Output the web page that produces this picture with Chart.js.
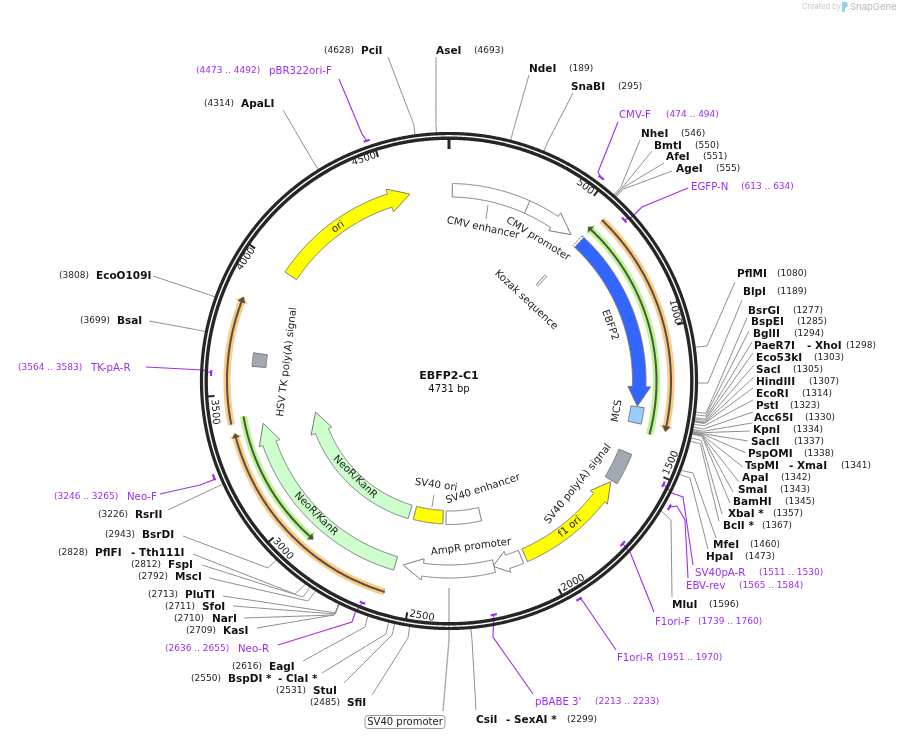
<!DOCTYPE html>
<html><head><meta charset="utf-8">
<style>html,body{margin:0;padding:0;background:#fff}canvas{display:block}</style>
<script src="https://cdn.jsdelivr.net/npm/chart.js@4/dist/chart.umd.js"></script>
</head><body><canvas id="c" width="899" height="738" style="width:899px;height:738px"></canvas>
<script>
const plasmidName = "EBFP2-C1";
const plasmidLength = 4731;
const tickValues = [500,1000,1500,2000,2500,3000,3500,4000,4500];
const siteNames = ["PciI","AseI","NdeI","SnaBI","NheI","BmtI","AfeI","AgeI","PflMI","BlpI","BsrGI","BspEI","BglII","PaeR7I","Eco53kI","SacI","HindIII","EcoRI","PstI","Acc65I","KpnI","SacII","PspOMI","TspMI","ApaI","SmaI","BamHI","XbaI *","BclI *","MfeI","HpaI","MluI","CsiI","SfiI","StuI","BspDI *","EagI","KasI","NarI","SfoI","PluTI","MscI","FspI","PflFI","BsrDI","RsrII","BsaI","EcoO109I","ApaLI"];
const siteBases = [4628,4693,189,295,546,550,551,555,1080,1189,1277,1285,1294,1298,1303,1305,1307,1314,1323,1330,1334,1337,1338,1341,1342,1343,1345,1357,1367,1460,1473,1596,2299,2485,2531,2550,2616,2709,2710,2711,2713,2792,2812,2828,2943,3226,3699,3808,4314];
const siteSecondNames = {PaeR7I:"- XhoI",TspMI:"- XmaI",CsiI:"- SexAI *","BspDI *":"- ClaI *",PflFI:"- Tth111I"};
const primerNames = ["pBR322ori-F","CMV-F","EGFP-N","SV40pA-R","EBV-rev","F1ori-F","F1ori-R","pBABE 3'","Neo-R","Neo-F","TK-pA-R"];
const primerStarts = [4473,474,613,1511,1565,1739,1951,2213,2636,3246,3564];
const primerEnds = [4492,494,634,1530,1584,1760,1970,2233,2655,3265,3583];
const primerStrands = [1,1,-1,-1,1,-1,1,-1,-1,1,-1];

/* layout only */
const C = {x:449,y:381};
const siteLayout = { // nameX, y, coordX, endX, endY, elbow(optional), secondX
 PciI:[361,51,324,388,57],AseI:[436,51,474,436,57],NdeI:[529,69,569,529,75],SnaBI:[571,87,618,573,93],
 NheI:[641,134,681,640,140],BmtI:[654,146,695,652,151],AfeI:[666,157,703,664,163],AgeI:[676,169,716,672,171],
 PflMI:[737,274,777,735,282,[707,346]],BlpI:[743,292,777,742,300,[708,383]],
 BsrGI:[748,311,793,747,318],BspEI:[751,322,797,749,331],BglII:[753,334,794,752,342],PaeR7I:[754,346,846,753,353,null,807],
 Eco53kI:[756,358,814,754,365],SacI:[756,370,793,754,377],HindIII:[756,382,809,753,388],EcoRI:[756,394,802,753,400],
 PstI:[756,406,790,753,412],Acc65I:[754,418,805,752,423],KpnI:[753,430,793,750,431],SacII:[751,442,794,748,441],
 PspOMI:[748,454,804,746,453],TspMI:[745,466,841,743,467,null,789],ApaI:[742,478,781,739,482],SmaI:[738,490,780,733,492],
 BamHI:[733,502,785,730,503],"XbaI *":[728,514,773,722,514],"BclI *":[723,526,762,719,521],
 MfeI:[713,545,750,716,538,[693,473]],HpaI:[706,557,745,708,549,[690,478]],MluI:[672,605,709,672,597,[671,520]],
 CsiI:[476,720,567,476,710,[472,640],506],SfiI:[347,703,310,372,695,[408,638]],StuI:[313,691,276,344,683,[392,635]],
 "BspDI *":[228,679,191,322,673,[386,634],278],EagI:[269,667,232,303,661,[365,627]],
 KasI:[223,631,186,257,628,[334,615]],NarI:[212,619,174,244,618,[334,615]],SfoI:[202,607,165,233,606,[335,614]],PluTI:[185,595,148,223,596,[336,613]],
 MscI:[175,577,138,209,578,[308,601]],FspI:[168,565,131,202,565,[303,597]],PflFI:[95,553,58,193,554,[295,594],131],BsrDI:[142,535,105,183,536,[268,568]],
 RsrII:[135,515,98,168,510],BsaI:[117,321,80,149,321],EcoO109I:[96,276,59,153,276],ApaLI:[241,104,204,283,110]
};
const primerLayout = [ // nameX, y, coordX, leader points
 [269,71,196,[[362,134],[339,79]]],[619,115,666,[[598,172],[618,122]]],[691,187,741,[[632,217],[642,207],[688,188]]],
 [695,573,759,[[672,493],[683,497],[693,565]]],[686,586,739,[[677,506],[685,520],[688,578]]],[655,622,698,[[630,552],[654,612]]],
 [617,658,658,[[582,600],[616,650]]],[535,702,595,[[493,637],[533,694]]],[238,649,165,[[355,613],[352,622],[278,645]]],
 [127,497,54,[[213,480],[200,485],[160,494]]],[91,368,18,[[203,370],[146,367]]]
];
const tickLabelLayout = [[585,187,38],[675,312,76],[671,463,-66],[573,583,-28],[422,616,10],[283,549,48],[215,412,86],[246,259,-56],[364,159,-18]];
const featureLabels = [
 ["CMV enhancer",483,228,12],["CMV promoter",538,239,32],["Kozak sequence",526,300,43],["EBFP2",610,325,70],["MCS",617,411,-80],
 ["SV40 poly(A) signal",578,484,-51],["f1 ori",570,527,-40],["AmpR promoter",471,547,-7.5],["SV40 ori",436,485,8],["SV40 enhancer",483,489,-18],
 ["NeoR/KanR",355,477,44],["NeoR/KanR",316,514,45],["HSV TK poly(A) signal",287,362,-83],["ori",338,227,-36]
];
const WHITE="#ffffff",YEL="#ffff00",NEO="#ccffcc",GREY="#a3a9b2",OUT="#767676";
const boxFeatures = [ // from,to,inner,outer,fill
 [2398,2556,129.5,143,YEL],[2193,2382,130,143.5,WHITE],[1470,1596,183,197,GREY],[3604,3656,183.5,197.5,GREY],[1285,1349,183.5,197,"#99ccff"]
];
const arrowFeatures = [ // tail,head,tip,inner,outer,wingIn,wingOut,tipR,fill
 [13,441,523,184,197.5,180.5,202,190.5,WHITE],[564,1205,1283,183.5,197,179,201.8,190,"#3366ff"],
 [2057,1680,1602,183,197,178.8,200.6,190.5,YEL],[2073,2130,2190,183,197,179,201,190.5,WHITE],[2186,2470,2549,184,197,179.4,200.9,189.6,WHITE],
 [2583,3266,3376,129.5,143.5,126,148.2,137,NEO],[2580,3297,3380,183,197,178.8,200.8,190.5,NEO],[3990,4492,4576,183,197,178,202,191,YEL]
];
const primerBars = [ // tail,head,tip,r,halo,core
 [572,1337,1357,222,"#fdca85","#555044"],[1379,568,552,207.5,"#bff494","#465a3c"],
 [3399,3822,3842,222,"#fdca85","#555044"],[2588,3352,3368,220.5,"#fdca85","#555044"],[3420,2916,2898,208.5,"#bff494","#465a3c"]
];

const rad = b => b/plasmidLength*2*Math.PI;
const pt = (b,r)=>({x:C.x+r*Math.sin(rad(b)),y:C.y-r*Math.cos(rad(b))});
function arc(a,b,r){const n=Math.max(2,Math.ceil(Math.abs(b-a)/6));const p=[];for(let i=0;i<=n;i++)p.push(pt(a+(b-a)*i/n,r));return p;}
function band(a,b,r1,r2){const p=[...arc(a,b,r2),...arc(b,a,r1)];p.push(p[0]);return p;}
function arrow(t,h,tip,r1,r2,w1,w2,tr){const p=[...arc(t,h,r2),pt(h,w2),pt(tip,tr),pt(h,w1),...arc(h,t,r1)];p.push(p[0]);return p;}
const xy = a=>({x:a[0],y:a[1]});
const DS=[];
function shape(data,fill,stroke,w,extra){DS.push(Object.assign({data,showLine:true,pointRadius:0,tension:0.0001,borderColor:stroke||"rgba(0,0,0,0)",borderWidth:w===undefined?1:w,backgroundColor:fill||"rgba(0,0,0,0)",fill:fill?"shape":false,borderJoinStyle:"miter",clip:false},extra||{}));}
function line(data,color,w){shape(data,null,color,w);}

// SV40 promoter leader, behind the ring
line([{x:449,y:588},{x:449,y:640},{x:443,y:711}],"#aaaaaa",1.4);
// site leaders
siteNames.forEach((n,i)=>{const L=siteLayout[n];const b=siteBases[i];const el=L[5]?xy(L[5]):pt(b,259);line([pt(b,248),el,{x:L[3],y:L[4]}],"#8c8c8c",1);});
// primer leaders
primerNames.forEach((n,i)=>{const L=primerLayout[i];const m=(primerStarts[i]+primerEnds[i])/2;const r=primerStrands[i]>0?254:238;line([pt(m,r),...L[3].map(xy)],"#a02cf5",1.1);});
// feature leaders
line([{x:488,y:205},{x:486,y:219}],"#8c8c8c",1);
line([{x:434,y:495},{x:432,y:507}],"#8c8c8c",1);
// ring
line(arc(0,plasmidLength,247.5),"#262626",3.2);
line(arc(0,plasmidLength,242.8),"#262626",3.4);
// ticks
line([pt(0,232),pt(0,244)],"#262626",3);
tickValues.forEach(t=>line([pt(t,235),pt(t,242)],"#262626",2));
// primer marks
primerNames.forEach((n,i)=>{const r=primerStrands[i]>0?254:238;line(arc(primerStarts[i],primerEnds[i],r),"#a02cf5",2.2);});
// primer bars
primerBars.forEach(p=>{const [t,h,tip,r,hc,cc]=p;
 shape(arrow(t,h,tip,r-3.6,r+3.6,r-7,r+7,r),hc,null,0);shape(arrow(t,h,tip,r-1,r+1,r-4,r+4,r),cc,null,0);
});
// features
boxFeatures.forEach(f=>shape(band(f[0],f[1],f[2],f[3]),f[4],OUT,1));
arrowFeatures.forEach(f=>shape(arrow(f[0],f[1],f[2],f[3],f[4],f[5],f[6],f[7]),f[8],OUT,1));
line([pt(318,184),pt(318,197.5)],OUT,1);
shape(band(554,566,130,143),WHITE,OUT,1);
shape(band(558,568,183.5,197),WHITE,"#33415f",1,{borderDash:[1.5,1.5]});
// logo
shape([{x:842,y:2},{x:847,y:2},{x:848,y:6},{x:845,y:8},{x:845,y:12},{x:842,y:12}],"#8fd3f4",null,0);
DS.reverse();

const textPlugin={id:"texts",afterDatasetsDraw(chart){
 const g=chart.ctx,X=v=>chart.scales.x.getPixelForValue(v),Y=v=>chart.scales.y.getPixelForValue(v);
 const F="'DejaVu Sans'";
 function put(t,x,y,font,col,rot,al){g.save();g.translate(X(x),Y(y));if(rot)g.rotate(rot*Math.PI/180);g.font=font;g.fillStyle=col;g.textAlign=al||"left";g.textBaseline="middle";g.fillText(t,0,0);g.restore();}
 const B="bold 10.5px "+F,R="9px "+F,T="10.2px "+F;
 siteNames.forEach((n,i)=>{const L=siteLayout[n];put(n,L[0],L[1],B,"#111");put("("+siteBases[i]+")",L[2],L[1],R,"#222");if(siteSecondNames[n])put(siteSecondNames[n],L[6],L[1],B,"#111");});
 primerNames.forEach((n,i)=>{const L=primerLayout[i];put(n,L[0],L[1],T,"#a02cf5");put("("+primerStarts[i]+" .. "+primerEnds[i]+")",L[2],L[1],R,"#a02cf5");});
 tickValues.forEach((t,i)=>{const L=tickLabelLayout[i];put(String(t),L[0],L[1],"10px "+F,"#222",L[2],"center");});
 featureLabels.forEach(L=>put(L[0],L[1],L[2],T,"#222",L[3],"center"));
 put(plasmidName,449,376,"bold 11px "+F,"#111",0,"center");
 put(plasmidLength+" bp",449,389,"10px "+F,"#111",0,"center");
 g.save();g.strokeStyle="#999";g.lineWidth=1;g.beginPath();g.roundRect(X(365),Y(715.5),80,13,3);g.stroke();g.restore();
 put("SV40 promoter",405,722,"10px "+F,"#222",0,"center");
 put("Created by",802,7,"7.5px Inter","#c8c8c8");
 put("SnapGene",850,7,"9.5px Inter","#b8b8b8");
}};
new Chart(document.getElementById("c"),{type:"scatter",data:{datasets:DS},plugins:[textPlugin],options:{
 responsive:false,animation:false,events:[],devicePixelRatio:1,layout:{padding:0},
 plugins:{legend:{display:false},tooltip:{enabled:false},title:{display:false}},
 scales:{x:{type:"linear",min:0,max:899,display:false},y:{type:"linear",min:0,max:738,reverse:true,display:false}}
}});
</script></body></html>
